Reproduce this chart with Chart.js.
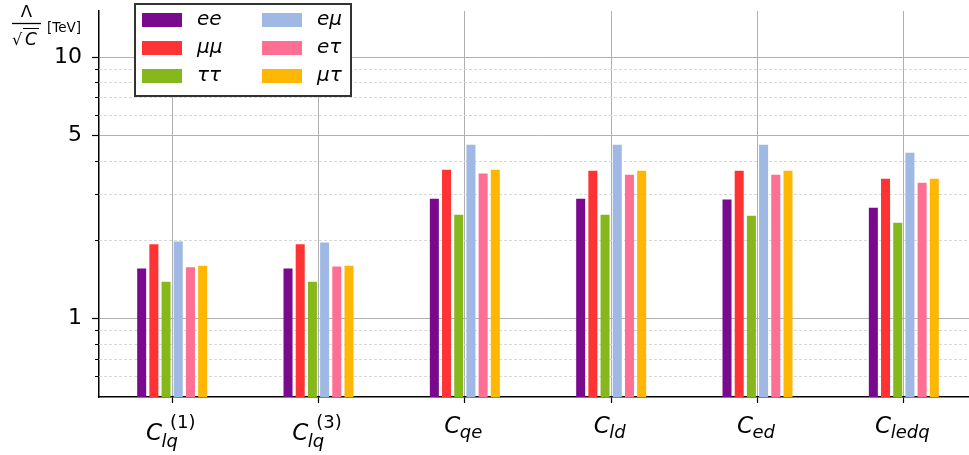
<!DOCTYPE html>
<html>
<head>
<meta charset="utf-8">
<script src="https://cdn.jsdelivr.net/npm/chart.js@4/dist/chart.umd.min.js"></script>
<style>
  html, body { margin: 0; padding: 0; background: #fff; overflow: hidden; }
  #wrap { width: 977px; height: 455px; }
</style>
</head>
<body>
<div id="wrap"><canvas id="chart" width="977" height="455"></canvas></div>
<script>
// Limites Λ/√C [TeV] por operador e por canal de sabor (escala log)
var catSub = ["lq", "lq", "qe", "ld", "ed", "ledq"];
var catSup = ["(1)", "(3)", "", "", "", ""];

var seriesLabels = ["ee", "μμ", "ττ", "eμ", "eτ", "μτ"];
var seriesColors = ["#790a8d", "#ff3333", "#86b81c", "#a0b8e4", "#ff6f94", "#ffb703"];

var ee     = [1.55, 1.55, 2.87, 2.87, 2.85, 2.65];
var mumu   = [1.92, 1.92, 3.70, 3.67, 3.67, 3.42];
var tautau = [1.38, 1.38, 2.49, 2.49, 2.47, 2.32];
var emu    = [1.97, 1.95, 4.62, 4.62, 4.62, 4.30];
var etau   = [1.57, 1.58, 3.58, 3.54, 3.54, 3.30];
var mutau  = [1.59, 1.59, 3.70, 3.67, 3.67, 3.42];

var yTicks = [0.6, 0.7, 0.8, 0.9, 1, 2, 3, 4, 5, 6, 7, 8, 9, 10];
var yMajor = [1, 5, 10];

var FONT = "'DejaVu Sans', sans-serif";

function isMajor(v) { return yMajor.indexOf(v) >= 0; }

// grade menor tracejada + marcas menores do eixo y
var minorGrid = {
  id: "minorGrid",
  beforeDatasetsDraw: function (chart) {
    var y = chart.scales.y, a = chart.chartArea, c = chart.ctx;
    c.save();
    yTicks.forEach(function (v) {
      if (isMajor(v)) return;
      var py = Math.round(y.getPixelForValue(v)) + 0.5;
      c.strokeStyle = "#d8d8d8";
      c.lineWidth = 1;
      c.setLineDash([3, 2]);
      c.beginPath(); c.moveTo(a.left, py); c.lineTo(a.right, py); c.stroke();
      c.setLineDash([]);
      c.strokeStyle = "#000";
      c.beginPath(); c.moveTo(a.left - 4, py); c.lineTo(a.left, py); c.stroke();
    });
    c.restore();
  }
};

// rótulos matemáticos do eixo x, legenda e título do eixo y
var decorations = {
  id: "decorations",
  afterDraw: function (chart) {
    var c = chart.ctx, x = chart.scales.x;
    c.save();
    c.fillStyle = "#000";
    c.textAlign = "left";
    c.textBaseline = "alphabetic";

    catSub.forEach(function (sub, i) {
      var sup = catSup[i];
      var cx = x.getPixelForValue(i);
      c.font = "italic 23px " + FONT;
      var wC = c.measureText("C").width;
      c.font = "italic 18px " + FONT;
      var wSub = c.measureText(sub).width;
      c.font = "18px " + FONT;
      var wSup = sup ? c.measureText(sup).width : 0;
      var subDx = wC - 0.5, supDx = wC + 8;
      var total = Math.max(subDx + wSub, sup ? supDx + wSup : 0);
      var x0 = cx - total / 2 - 1.5;
      var base = sup ? 440 : 433;
      c.font = "italic 23px " + FONT;
      c.fillText("C", x0, base);
      c.font = "italic 18px " + FONT;
      c.fillText(sub, x0 + subDx, sup ? 446.5 : 437.5);
      if (sup) {
        c.font = "18px " + FONT;
        c.fillText(sup, x0 + supDx, 428);
      }
    });

    // título do eixo y: Λ / √C [TeV]
    c.font = "16.5px " + FONT;
    c.textAlign = "center";
    c.fillText("Λ", 26.5, 17);
    c.lineWidth = 1.3;
    c.strokeStyle = "#000";
    c.beginPath(); c.moveTo(12, 23.5); c.lineTo(41, 23.5); c.stroke();
    c.textAlign = "left";
    c.font = "16px " + FONT;
    c.fillText("√", 12, 45);
    c.lineWidth = 1;
    c.beginPath(); c.moveTo(23, 28.5); c.lineTo(39, 28.5); c.stroke();
    c.font = "italic 17px " + FONT;
    c.fillText("C", 25, 45);
    c.font = "13.5px " + FONT;
    c.fillText("[TeV]", 47, 32);

    // legenda em duas colunas
    c.fillStyle = "#fff";
    c.fillRect(135, 4, 216, 92);
    c.lineWidth = 2;
    c.strokeStyle = "#333";
    c.strokeRect(135, 4, 216, 92);
    c.font = "italic 20px " + FONT;
    c.textBaseline = "middle";
    seriesLabels.forEach(function (lab, i) {
      var col = Math.floor(i / 3), row = i % 3;
      var sx = col ? 262 : 142, tx = col ? 317 : 197;
      var sy = 13 + row * 28;
      c.fillStyle = seriesColors[i];
      c.fillRect(sx, sy, 40, 14);
      c.fillStyle = "#000";
      c.fillText(lab, tx, sy + 7);
    });
    c.restore();
  }
};

var values = [ee, mumu, tautau, emu, etau, mutau];

new Chart(document.getElementById("chart"), {
  type: "bar",
  data: {
    labels: catSub.map(function (s, i) { return "C_" + s + catSup[i]; }),
    datasets: values.map(function (vals, i) {
      return {
        label: seriesLabels[i],
        data: vals,
        backgroundColor: seriesColors[i],
        borderWidth: 0,
        categoryPercentage: 0.5,
        barPercentage: 0.74,
      };
    }),
  },
  options: {
    responsive: false,
    animation: false,
    devicePixelRatio: 1,
    layout: { autoPadding: false, padding: { top: 11, left: 0, right: 0, bottom: 0 } },
    plugins: { legend: { display: false }, tooltip: { enabled: false } },
    scales: {
      x: {
        grid: {
          color: "#b0b0b0",
          offset: false,
          tickLength: 6,
          tickColor: "#000",
          tickWidth: 1.2,
        },
        border: { color: "#000", width: 1.5 },
        ticks: { display: false },
        afterFit: function (s) { s.height = 58; s.paddingLeft = 0; s.paddingRight = 0; },
      },
      y: {
        type: "logarithmic",
        min: 0.5,
        max: 15,
        afterBuildTicks: function (s) {
          s.ticks = yTicks.map(function (v) { return { value: v, major: isMajor(v) }; });
        },
        afterFit: function (s) { s.width = 99; s.paddingTop = 0; s.paddingBottom = 0; },
        grid: {
          color: function (ctx) { return ctx.tick && isMajor(ctx.tick.value) ? "#b0b0b0" : "rgba(0,0,0,0)"; },
          tickColor: function (ctx) { return ctx.tick && isMajor(ctx.tick.value) ? "#000" : "rgba(0,0,0,0)"; },
          tickLength: 7,
          tickWidth: 1.2,
        },
        border: { color: "#000", width: 1.5 },
        ticks: {
          autoSkip: false,
          padding: 10,
          color: "#000",
          font: { family: FONT, size: 22 },
          callback: function (v) { return isMajor(v) ? String(v) : ""; },
        },
      },
    },
  },
  plugins: [minorGrid, decorations],
});
</script>
</body>
</html>
